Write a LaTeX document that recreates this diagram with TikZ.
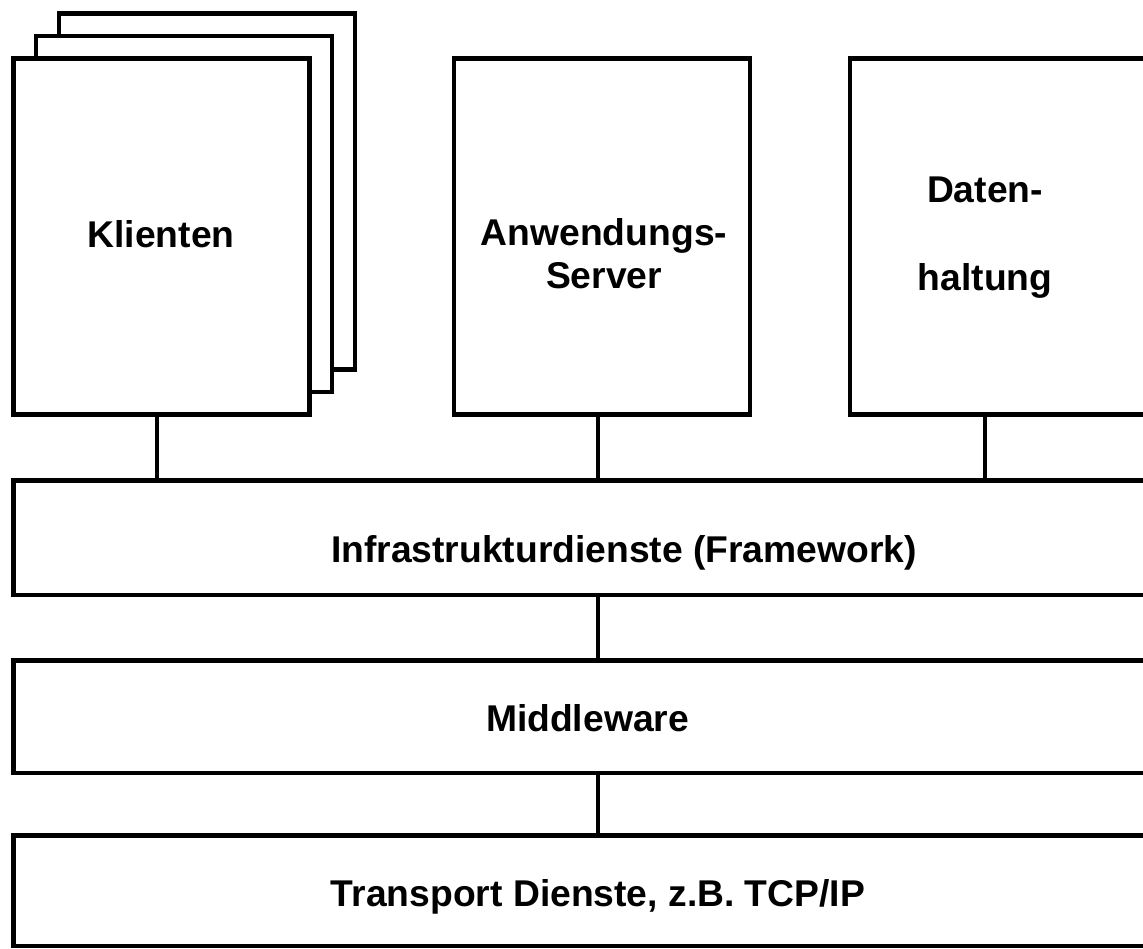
\documentclass[tikz,border=0pt]{standalone}
\usepackage{fontspec}
\setmainfont{Liberation Sans}

\begin{document}
\begin{tikzpicture}[x=0.1mm, y=-0.1mm, line width=0.45mm,
    tierbox/.style={draw, fill=white, minimum width=29.6mm, minimum height=35.6mm, inner sep=0pt, outer sep=0pt},
    layerbox/.style={draw, fill=white, minimum width=113.65mm, inner sep=0pt, outer sep=0pt},
    lbl/.style={font=\fontsize{10.6}{12.2}\selectfont\bfseries, inner sep=0pt}]
    \useasboundingbox (0,0) rectangle (1143,948);
    \clip (0,0) rectangle (1143,948);

    % Klienten - stacked boxes
    \node[tierbox] (kli3) at (207,191.5) {};
    \node[tierbox] (kli2) at (184,214) {};
    \node[tierbox] (kli) at (161.5,236.5) {};
    \node[lbl, anchor=base] (klitxt) at (161,247) {Klienten};

    % Anwendungs-Server
    \node[tierbox] (app) at (602,236.5) {};
    \node[lbl, align=center] (apptxt) at (604,254) {Anwendungs-\\Server};

    % Datenhaltung
    \node[tierbox] (db) at (998,236.5) {};
    \node[lbl, align=center] (dbtxt) at (985,238) {Daten-\\[12.8pt]haltung};

    % Layers
    \node[layerbox, minimum height=11.43mm] (infra) at (581.75,537.85) {};
    \node[lbl, anchor=base] (infratxt) at (624,562.8) {Infrastrukturdienste (Framework)};

    \node[layerbox, minimum height=11.23mm] (mw) at (581.75,716.85) {};
    \node[lbl, anchor=base] (mwtxt) at (587.5,731.7) {Middleware};

    \node[layerbox, minimum height=11.03mm] (tp) at (581.75,890.85) {};
    \node[lbl, anchor=base] (tptxt) at (598,906.7) {Transport Dienste, z.B. TCP/IP};

    % Connectors
    \coordinate (kx) at (157,0);
    \coordinate (ax) at (598,0);
    \coordinate (dx) at (985,0);
    \draw (kli.south -| kx) -- (infra.north -| kx);
    \draw (app.south -| ax) -- (infra.north -| ax);
    \draw (db.south -| dx) -- (infra.north -| dx);
    \draw (infra.south -| ax) -- (mw.north -| ax);
    \draw (mw.south -| ax) -- (tp.north -| ax);
\end{tikzpicture}
\end{document}
